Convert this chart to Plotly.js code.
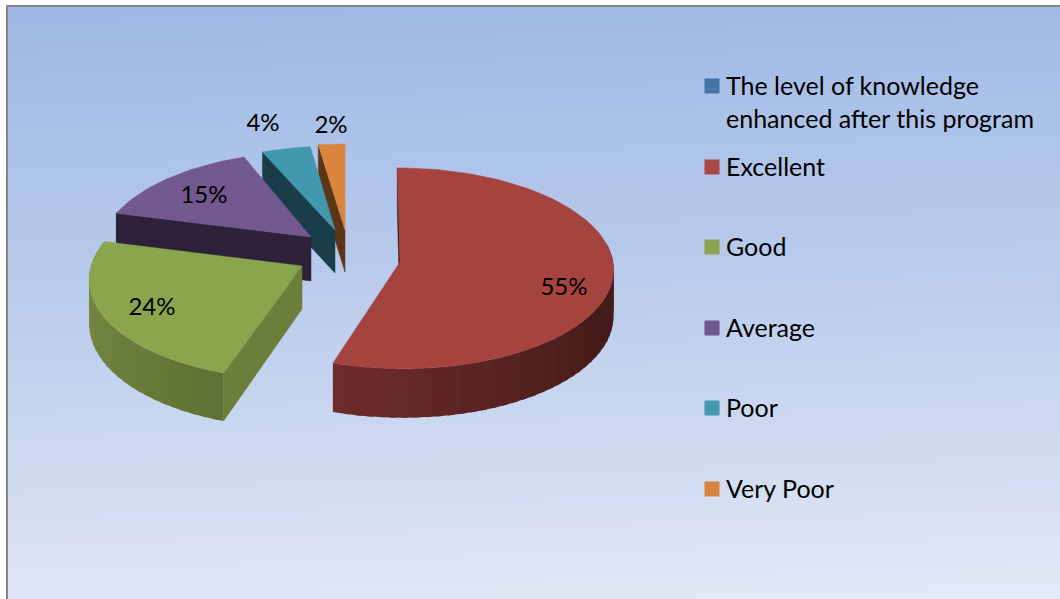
<!DOCTYPE html>
<html>
<head>
<meta charset="utf-8">
<script src="https://cdn.plot.ly/plotly-3.0.1.min.js"></script>
<style>
html,body{margin:0;padding:0;background:#fff;overflow:hidden}
#frame{position:absolute;left:6px;top:5px;width:1054px;height:594px;box-sizing:border-box;border-left:2px solid #868686;border-top:2px solid #868686;
background:linear-gradient(178deg,#9cb7e4 0%,#a9c0e8 18%,#bccdec 50%,#e2e9f6 100%)}
#chart{position:absolute;left:0;top:0;width:1060px;height:599px}
</style>
</head>
<body>
<div id="frame"></div>
<div id="chart"></div>
<script>
// Data
const seriesName = "The level of knowledge<br>enhanced after this program";
const categories = ["Excellent", "Good", "Average", "Poor", "Very Poor"];
const values = [55, 24, 15, 4, 2];

// Colours
const legendColors = ["#4572a7", "#aa4643", "#89a54e", "#71588f", "#4198af", "#db843d"];
const topColors = ["#a5433f", "#89a54e", "#71588f", "#4198af", "#db843d"];
const faceColors = ["#3a1512", "#6a7f3a", "#2c2138", "#1a3d49", "#5a3616"];
const wallNear = [[0x43,0x1b,0x18],[0x5f,0x71,0x33],[0x2c,0x21,0x38],[0x1a,0x3d,0x49],[0x5a,0x36,0x16]];
const wallFar = [[0x6e,0x2c,0x2b],[0x7e,0x93,0x47],[0x2c,0x21,0x38],[0x1a,0x3d,0x49],[0x5a,0x36,0x16]];

// Projection of the exploded pie, per slice
const apexX = [400, 302, 311, 335, 345];
const apexY = [262, 266, 237, 230, 230];
const radiusX = [213, 211, 209, 197, 213];
const radiusY = [100, 100.7, 98.8, 84, 86];
const persp = [0.0626, 0.11, 0.16, 0, 0];
const vanish = [355, 350, 311, 350, 350];
const depth = [46, 43, 44, 43, 42];
const labelX = [564, 152, 204, 263, 331];
const labelY = [289, 309, 197, 125, 127];
const legendLineY = [85, 166, 246, 327, 407, 488];

function project(i, deg, down) {
  const a = deg * Math.PI / 180;
  const u = radiusX[i] * Math.sin(a), c = -Math.cos(a);
  const s = 1 / (1 - persp[i] * c);
  return [vanish[i] + (apexX[i] - vanish[i] + u) * s, apexY[i] + c * radiusY[i] * s + (down ? depth[i] * s : 0)];
}
function apex(i, down) { return [apexX[i], apexY[i] + (down ? depth[i] : 0)]; }
function poly(pts, color, lw) {
  return {type:"scatter", mode:"lines", x:pts.map(p=>p[0]), y:pts.map(p=>p[1]), fill:"toself", fillcolor:color,
    line:{color:color, width:lw}, hoverinfo:"skip", showlegend:false};
}

const total = values.reduce((a,b)=>a+b,0);
let start = 0;
const spans = values.map(v => { const s=[start, start + v/total*360]; start = s[1]; return s; });

const traces = [];
// far slices first
[4,3,2,1,0].forEach(i => {
  const [a0,a1] = spans[i];
  // outer wall, in angular strips for the shading (each strip overlaps the next)
  const lo = Math.max(a0, 80), hi = Math.min(a1, 285);
  if (hi > lo) {
    const n = Math.ceil((hi-lo)/3);
    for (let k=n-1;k>=0;k--) {
      const b0 = lo+(hi-lo)*k/n, b1 = lo+(hi-lo)*(k+1)/n, m=(b0+b1)/2;
      const b2 = Math.max(lo, b0-1.5);
      let f;
      if (i===0) f = Math.min(1, Math.max(0,(m-115)/(198-115)));
      else f = (m-198)/(285-198);
      const col = wallNear[i].map((c,j)=>Math.round(c+(wallFar[i][j]-c)*f));
      traces.push(poly([project(i,b2,false),project(i,b1,false),project(i,b1,true),project(i,b2,true),project(i,b2,false)],
        "rgb("+col.join(",")+")", 0));
    }
  }
  // radial face that turns towards the viewer
  traces.push(poly([project(i,a0,false),project(i,a0,true),apex(i,true),apex(i,false),project(i,a0,false)], faceColors[i], 0.5));
  // top surface
  const pts=[apex(i,false)];
  const m = Math.max(2,Math.ceil((a1-a0)/2));
  for (let k=0;k<=m;k++) pts.push(project(i,a0+(a1-a0)*k/m,false));
  pts.push(apex(i,false));
  traces.push(poly(pts, topColors[i], 0.5));
});

// data labels
traces.push({type:"scatter", mode:"text", x:labelX, y:labelY, text:values.map(v=>v+"%"),
  textposition:"middle center", textfont:{family:"Lato", size:24, color:"#000"}, hoverinfo:"skip", showlegend:false});

// legend
[seriesName].concat(categories).forEach((name,i)=>{
  traces.push({type:"scatter", mode:"markers", x:[null], y:[null], name:name, legendgroup:"g"+i,
    marker:{symbol:"square", size:15, color:legendColors[i]}, hoverinfo:"skip"});
});

const layout = {
  width:1060, height:599, margin:{l:0,r:0,t:0,b:0},
  paper_bgcolor:"rgba(0,0,0,0)", plot_bgcolor:"rgba(0,0,0,0)",
  xaxis:{range:[0,1060], visible:false, fixedrange:true},
  yaxis:{range:[599,0], visible:false, fixedrange:true},
  showlegend:true,
  legend:{x:686/1060, xanchor:"left", y:1-60/599, yanchor:"top", bgcolor:"rgba(0,0,0,0)", borderwidth:0,
    font:{family:"Lato", size:25, color:"#000"}, traceorder:"grouped", tracegroupgap:46, itemsizing:"trace", itemclick:false, itemdoubleclick:false}
};
Plotly.newPlot("chart", traces, layout, {displayModeBar:false, staticPlot:true}).then(() => {
  // legend rows in the reference are unevenly spaced; the marker sits on the first line of a row
  document.querySelectorAll(".legend .traces").forEach((g,i) => {
    const line = g.querySelector(".legendtext tspan.line") || g.querySelector(".legendtext");
    const r = line.getBoundingClientRect();
    const c = (r.top + r.bottom) / 2;
    const path = g.querySelector(".legendpoints path");
    const pr = path.getBoundingClientRect();
    const pc = (pr.top + pr.bottom) / 2;
    path.setAttribute("transform", "translate(6," + (c - pc + 1) + ") " + (path.getAttribute("transform") || ""));
    g.setAttribute("transform", (g.getAttribute("transform") || "") + " translate(0," + (legendLineY[i] - c) + ")");
  });
});
</script>
</body>
</html>
